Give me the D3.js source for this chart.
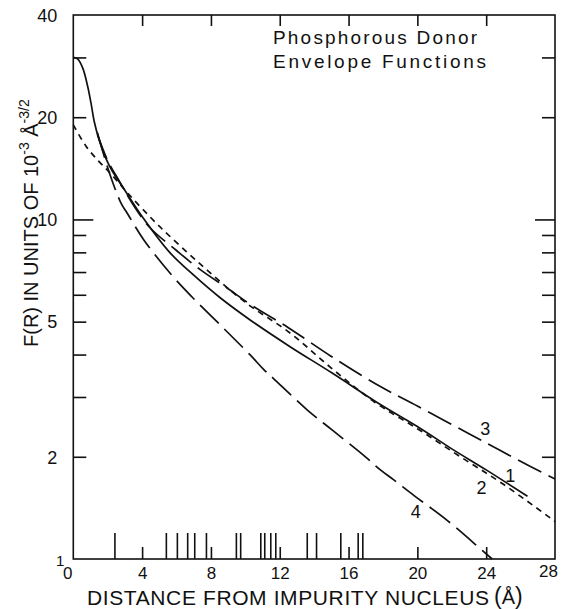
<!DOCTYPE html>
<html>
<head>
<meta charset="utf-8">
<script src="https://cdn.jsdelivr.net/npm/d3@7"></script>
<style>
    body { margin: 0; background: #fff; }
    svg { display: block; }
</style>
</head>
<body>
<div class="canvas"></div>
<script>
// ---- data ----
const xLabelValues = [0, 4, 8, 12, 16, 20, 24, 28];
const xFrameTicks = [4, 8, 12, 16, 20, 24];
const yLabelValues = [1, 2, 5, 10, 20, 40];
const yFrameTicks = [2, 3, 4, 5, 6, 7, 8, 9, 20, 30];
const yLongTicks = [10];

// lattice shell distances (rug along the bottom)
const shellDistances = [2.39, 5.38, 6.02, 6.62, 7.03, 7.71, 9.45, 9.70, 10.87, 11.10,
    11.45, 11.74, 13.57, 14.11, 15.52, 16.53, 16.80];

// envelope functions [r (A), F(r)]
const curve1 = [[0, 30.0], [0.25, 29.7], [0.55, 27.9], [0.84, 24.6], [1.03, 22.0], [1.22, 19.4],
    [1.51, 17.1], [1.9, 15.1], [2.29, 13.8], [2.9, 12.4], [4, 10.2], [5.6, 8.0], [7, 6.85],
    [8.5, 5.9], [10.3, 5.05], [12.6, 4.22], [15, 3.54], [17.85, 2.85], [20.2, 2.42], [22, 2.11],
    [24, 1.83], [26.4, 1.53]];
const curve2 = [[0, 19.0], [0.75, 16.4], [1.5, 14.8], [2.2, 13.6], [3.2, 11.9], [5, 9.55],
    [7.5, 7.3], [10, 5.7], [12.6, 4.63], [15, 3.65], [17.5, 2.9], [20, 2.42], [22.5, 2.0],
    [25, 1.66], [28, 1.29]];
const curve3 = [[1.4, 17.8], [2.0, 14.9], [2.7, 12.9], [3.5, 11.0], [4.46, 9.45], [6, 8.1],
    [7.4, 7.1], [9, 6.25], [10.5, 5.53], [12.5, 4.8], [15, 3.95], [17.85, 3.22], [20, 2.82],
    [23, 2.34], [25.5, 2.0], [28, 1.72]];
const curve4 = [[1.4, 18.0], [2.1, 13.7], [2.78, 11.15], [3.1, 10.5], [4.1, 8.7], [5.63, 6.94],
    [6.89, 5.92], [8.54, 4.89], [10.28, 3.99], [11.06, 3.62], [11.64, 3.40], [13.59, 2.75],
    [15.04, 2.40], [16.98, 2.0], [17.85, 1.83], [18.63, 1.71], [19.79, 1.54], [21.73, 1.30],
    [23.77, 1.06], [24.35, 1.0]];

const curveNames = ['1', '2', '3', '4'];
const curveLabelR = [25.4, 23.73, 23.95, 19.91];
const curveLabelF = [1.76, 1.62, 2.43, 1.38];

// ---- layout ----
const margin = { top: 15, right: 7, bottom: 50, left: 73.3 };
const graphWidth = 562 - margin.left - margin.right;
const graphHeight = 609 - margin.top - margin.bottom;
const font = "'Liberation Sans', Arial, sans-serif";
const ink = '#111';

const svg = d3.select('.canvas')
    .append('svg')
    .attr('width', 562)
    .attr('height', 609)
    .style('font-family', font)
;

const graph = svg.append('g')
    .attr('transform', `translate(${margin.left}, ${margin.top})`)
;

// scales
const x = d3.scaleLinear().domain([0, 28]).range([0, graphWidth]);
const y = d3.scaleLog().domain([1, 40]).range([graphHeight, 0]);

// frame
graph.append('rect')
    .attr('width', graphWidth)
    .attr('height', graphHeight)
    .attr('fill', 'none')
    .attr('stroke', ink)
    .attr('stroke-width', 1.6)
;

// inward ticks on all four sides
const tickGroup = (axis, tx, ty) => {
    const g = graph.append('g')
        .attr('transform', `translate(${tx}, ${ty})`)
        .call(axis);
    g.select('.domain').remove();
    g.selectAll('line').attr('stroke', ink).attr('stroke-width', 1.6);
    return g;
};

tickGroup(d3.axisBottom(x).tickValues(xFrameTicks).tickSize(-12).tickFormat(''), 0, graphHeight);
tickGroup(d3.axisTop(x).tickValues(xFrameTicks).tickSize(-11).tickFormat(''), 0, 0);
tickGroup(d3.axisLeft(y).tickValues(yFrameTicks).tickSize(-13).tickFormat(''), 0, 0);
tickGroup(d3.axisLeft(y).tickValues(yLongTicks).tickSize(-20).tickFormat(''), 0, 0);
tickGroup(d3.axisRight(y).tickValues(yFrameTicks).tickSize(-13).tickFormat(''), graphWidth, 0);
tickGroup(d3.axisRight(y).tickValues(yLongTicks).tickSize(-20).tickFormat(''), graphWidth, 0);

// shell distance rug
tickGroup(d3.axisBottom(x).tickValues(shellDistances).tickSize(-26).tickFormat(''), 0, graphHeight);

// tick labels
const xLabels = graph.append('g')
    .attr('transform', `translate(0, ${graphHeight})`)
    .call(d3.axisBottom(x).tickValues(xLabelValues).tickSize(0).tickPadding(8).tickFormat(d3.format('d')))
;
xLabels.select('.domain').remove();
xLabels.selectAll('text')
    .attr('font-family', font)
    .attr('font-size', 17)
    .attr('fill', ink)
    .attr('dx', d => d === 0 ? -6 : d === 28 ? -7 : 0)
    .attr('y', d => d === 28 ? 6 : 8)
;

const yLabels = graph.append('g')
    .call(d3.axisLeft(y).tickValues(yLabelValues).tickSize(0).tickPadding(16).tickFormat(d3.format('d')))
;
yLabels.select('.domain').remove();
yLabels.selectAll('text')
    .attr('font-family', font)
    .attr('font-size', d => d === 1 ? 15 : 18)
    .attr('fill', ink)
    .attr('x', d => d === 1 ? -9 : -16)
    .attr('dy', d => d === 1 ? '0.4em' : '0.35em')
;

// curves
const line = d3.line()
    .x(d => x(d[0]))
    .y(d => y(d[1]))
    .curve(d3.curveCatmullRom.alpha(0.5))
;

const curves = [curve1, curve2, curve3, curve4];
const dashes = [null, '6 5', '26 8', '26 8'];

graph.selectAll('path.curve')
    .data(curves)
    .enter()
    .append('path')
        .attr('class', 'curve')
        .attr('fill', 'none')
        .attr('stroke', ink)
        .attr('stroke-width', 1.7)
        .attr('stroke-dasharray', (d, i) => dashes[i])
        .attr('d', line)
;

// curve numbers
graph.selectAll('text.curve-label')
    .data(curveNames)
    .enter()
    .append('text')
        .attr('class', 'curve-label')
        .attr('x', (d, i) => x(curveLabelR[i]))
        .attr('y', (d, i) => y(curveLabelF[i]))
        .attr('dy', '0.36em')
        .attr('text-anchor', 'middle')
        .attr('font-size', 18)
        .attr('fill', ink)
        .text(d => d)
;

// annotation
svg.append('text')
    .attr('x', 273).attr('y', 44)
    .attr('font-size', 19).attr('fill', ink)
    .attr('textLength', 204).attr('lengthAdjust', 'spacing')
    .text('Phosphorous Donor')
;
svg.append('text')
    .attr('x', 273).attr('y', 68)
    .attr('font-size', 19).attr('fill', ink)
    .attr('textLength', 213).attr('lengthAdjust', 'spacing')
    .text('Envelope Functions')
;

// axis titles
svg.append('text')
    .attr('x', 87).attr('y', 605)
    .attr('font-size', 21).attr('fill', ink)
    .attr('textLength', 402).attr('lengthAdjust', 'spacing')
    .text('DISTANCE  FROM  IMPURITY  NUCLEUS')
;
const unit = svg.append('text')
    .attr('x', 494).attr('y', 604)
    .attr('font-size', 20).attr('fill', ink)
;
unit.append('tspan').attr('font-size', 23).text('(');
unit.append('tspan').text('Å');
unit.append('tspan').attr('font-size', 23).text(')');

const yTitle = svg.append('text')
    .attr('transform', 'translate(38, 347) rotate(-90)')
    .attr('font-size', 20).attr('fill', ink)
;
yTitle.append('tspan').text('F(R) IN UNITS OF 10');
yTitle.append('tspan').attr('font-size', 14).attr('dy', -9).text('-3');
yTitle.append('tspan').attr('dy', 9).text(' Å');
yTitle.append('tspan').attr('font-size', 14).attr('dy', -9).text('-3/2');
</script>
</body>
</html>
